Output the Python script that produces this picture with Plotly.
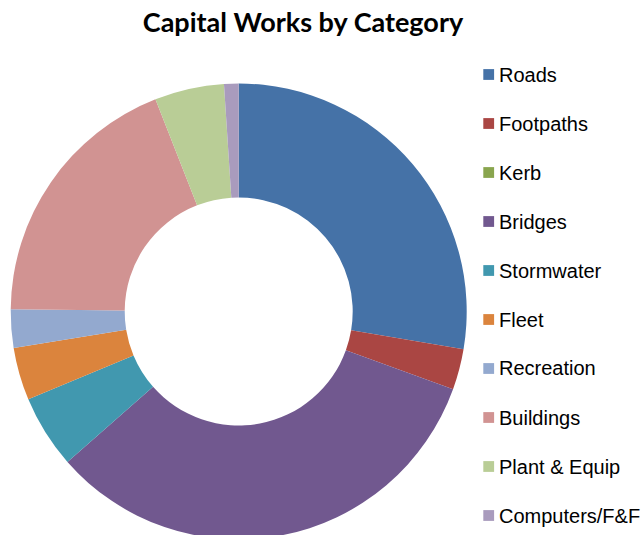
import plotly.graph_objects as go

# Share of capital works spend by category (%)
categories = ["Roads", "Footpaths", "Kerb", "Bridges", "Stormwater",
              "Fleet", "Recreation", "Buildings", "Plant & Equip", "Computers/F&F"]
shares = [27.65, 2.89, 0.0, 32.99, 5.18, 3.74, 2.71, 18.90, 4.92, 1.03]
colors = ["#4572A7", "#AA4643", "#89A54E", "#71588F", "#4198AF",
          "#DB843D", "#93A9CF", "#D19392", "#B9CD96", "#A99BBD"]

W, H = 643, 540

fig = go.Figure(go.Pie(
    labels=categories,
    values=shares,
    marker=dict(colors=colors, line=dict(width=0)),
    hole=0.5,
    sort=False,
    direction="clockwise",
    rotation=0,
    textinfo="none",
    showlegend=False,
    domain=dict(x=[10.4 / W, 467.0 / W], y=[(H - 539.5) / H, (H - 83.5) / H]),
))

# Legend column: colour swatch + label, one row per category
legend_x0 = 483.3
legend_top = 74.5
row_step = 49.0
swatch = 10.8
for i, (name, col) in enumerate(zip(categories, colors)):
    yc = legend_top + i * row_step
    fig.add_shape(
        type="rect", xref="paper", yref="paper",
        x0=legend_x0 / W, x1=(legend_x0 + swatch) / W,
        y0=(H - yc - swatch / 2) / H, y1=(H - yc + swatch / 2) / H,
        fillcolor=col, line=dict(width=0),
    )
    fig.add_annotation(
        x=497.0 / W, y=(H - yc) / H, xref="paper", yref="paper",
        text=name, showarrow=False, xanchor="left", yanchor="middle",
        font=dict(family="Liberation Sans, Arial", size=20, color="#000000"),
    )

fig.update_layout(
    width=W, height=H,
    margin=dict(l=0, r=0, t=0, b=0),
    paper_bgcolor="white",
    plot_bgcolor="white",
    title=dict(
        text="<b>Capital Works by Category</b>",
        x=303 / W, xanchor="center",
        y=(H - 23) / H, yanchor="middle", yref="container",
        font=dict(family="Lato", size=27, color="#000000"),
    ),
)

fig.write_html("out.html", post_script="document.body.style.margin='0';document.body.style.overflow='hidden';")
